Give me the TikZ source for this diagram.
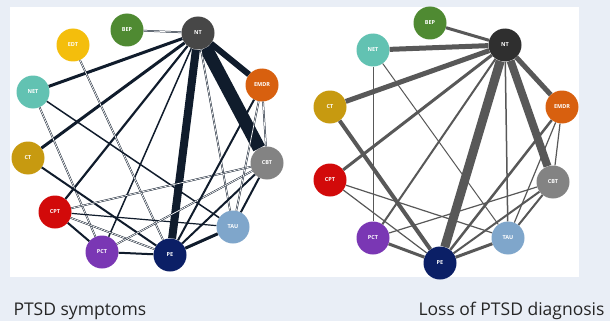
\documentclass[tikz,border=0pt]{standalone}
\usepackage{fontspec}
\setmainfont{Open Sans}
\usepackage{xcolor}
\usepackage{tikz}
\usetikzlibrary{positioning}

\definecolor{pagebg}{HTML}{E9EEF6}
\definecolor{edgeL}{HTML}{101C2C}
\definecolor{edgeR}{HTML}{585858}
\definecolor{cNT}{HTML}{474747}
\definecolor{cNTr}{HTML}{2F2F2F}
\definecolor{cBEP}{HTML}{4F8A32}
\definecolor{cEDT}{HTML}{F4BE0C}
\definecolor{cNET}{HTML}{62C2B2}
\definecolor{cCT}{HTML}{C79A10}
\definecolor{cCPT}{HTML}{D20A0A}
\definecolor{cPCT}{HTML}{7A37B4}
\definecolor{cPE}{HTML}{0B1F66}
\definecolor{cTAU}{HTML}{7FA6CB}
\definecolor{cCBT}{HTML}{838383}
\definecolor{cEMDR}{HTML}{D8600F}

\begin{document}
\begin{tikzpicture}[
    x=1pt, y=-1pt,
    trt/.style={circle, inner sep=0pt, minimum size=33pt, text=white, font=\fontsize{5.5}{6}\selectfont\bfseries},
    lnk/.style={draw=edgeL, line width=#1},
    lnk/.default=1.2,
    pair/.style={draw=edgeL, line width=0.5pt, double=white, double distance=0.7pt},
    rlnk/.style={draw=edgeR, line width=#1},
    rlnk/.default=1.2,
    caption/.style={anchor=base west, font=\fontsize{17.5}{20}\selectfont, text=black!85}
]
\useasboundingbox[fill=pagebg] (0,0) rectangle (610,321);
\fill[white] (10,7) rectangle (579,277);

% PTSD symptoms
\node[trt, fill=cEDT] (lEDT) at (73,45) {EDT};
\node[trt, fill=cBEP] (lBEP) at (127,30) {BEP};
\node[trt, fill=cNT] (lNT) at (198,33) {NT};
\node[trt, fill=cEMDR] (lEMDR) at (262,85) {EMDR};
\node[trt, fill=cCBT] (lCBT) at (267,163) {CBT};
\node[trt, fill=cTAU] (lTAU) at (233,227) {TAU};
\node[trt, fill=cPE] (lPE) at (170,255) {PE};
\node[trt, fill=cPCT] (lPCT) at (102,252) {PCT};
\node[trt, fill=cCPT] (lCPT) at (55,212) {CPT};
\node[trt, fill=cCT] (lCT) at (28,158) {CT};
\node[trt, fill=cNET] (lNET) at (33,92) {NET};

\draw[lnk=13] (lNT) -- (lCBT);
\draw[lnk=8] (lNT) -- (lPE);
\draw[lnk=6] (lNT) -- (lEMDR);
\draw[lnk=3] (lNT) -- (lNET);
\draw[lnk=3] (lNT) -- (lCT);
\draw[lnk=2.2] (lNT) -- (lCPT);
\draw[lnk=1.5] (lNT) -- (lPCT);
\draw[pair] (lNT) -- (lBEP);
\draw[pair] (lNT) -- (lTAU);
\draw[pair] (lEDT) -- (lPE);
\draw[pair] (lNET) -- (lPCT);
\draw[lnk=1.5] (lNET) -- (lTAU);
\draw[lnk=2] (lCT) -- (lPE);
\draw[lnk=2] (lCPT) -- (lPCT);
\draw[lnk] (lCPT) -- (lTAU);
\draw[pair] (lCPT) -- (lPE);
\draw[pair] (lCPT) -- (lCBT);
\draw[lnk=2] (lPCT) -- (lPE);
\draw[pair] (lPCT) -- (lCBT);
\draw[lnk=3] (lPE) -- (lTAU);
\draw[lnk=2] (lPE) -- (lCBT);
\draw[lnk=2] (lPE) -- (lEMDR);
\draw[lnk=2] (lTAU) -- (lCBT);
\draw[pair] (lTAU) -- (lEMDR);
\draw[pair] (lCBT) -- (lEMDR);

% Loss of PTSD diagnosis
\node[trt, fill=cBEP] (rBEP) at (430,23) {BEP};
\node[trt, fill=cNET] (rNET) at (373,50) {NET};
\node[trt, fill=cNTr] (rNT) at (505,45) {NT};
\node[trt, fill=cCT] (rCT) at (330,107) {CT};
\node[trt, fill=cEMDR] (rEMDR) at (562,107) {EMDR};
\node[trt, fill=cCBT] (rCBT) at (553,182) {CBT};
\node[trt, fill=cCPT] (rCPT) at (330,180) {CPT};
\node[trt, fill=cPCT] (rPCT) at (373,238) {PCT};
\node[trt, fill=cPE] (rPE) at (440,263) {PE};
\node[trt, fill=cTAU] (rTAU) at (508,238) {TAU};

\draw[rlnk=9] (rNT) -- (rPE);
\draw[rlnk=8] (rNT) -- (rCBT);
\draw[rlnk=5] (rNT) -- (rNET);
\draw[rlnk=5] (rNT) -- (rCT);
\draw[rlnk=5] (rNT) -- (rEMDR);
\draw[rlnk=3] (rNT) -- (rBEP);
\draw[rlnk=3] (rNT) -- (rCPT);
\draw[rlnk=2] (rNT) -- (rPCT);
\draw[rlnk=1.5] (rNT) -- (rTAU);
\draw[rlnk=1] (rNET) -- (rPCT);
\draw[rlnk=1] (rNET) -- (rTAU);
\draw[rlnk=4] (rCT) -- (rPE);
\draw[rlnk] (rCPT) -- (rPE);
\draw[rlnk] (rCPT) -- (rTAU);
\draw[rlnk=3] (rPCT) -- (rPE);
\draw[rlnk] (rPCT) -- (rCBT);
\draw[rlnk=3] (rPE) -- (rTAU);
\draw[rlnk=2] (rPE) -- (rCBT);
\draw[rlnk=2.5] (rPE) -- (rEMDR);
\draw[rlnk=2] (rTAU) -- (rCBT);
\draw[rlnk] (rTAU) -- (rEMDR);
\draw[rlnk] (rCBT) -- (rEMDR);

% Captions
\node[caption] (capL) at (10,315) {PTSD symptoms};
\node[caption, anchor=base east] (capR) at (608,315) {Loss of PTSD diagnosis};

\end{tikzpicture}
\end{document}
